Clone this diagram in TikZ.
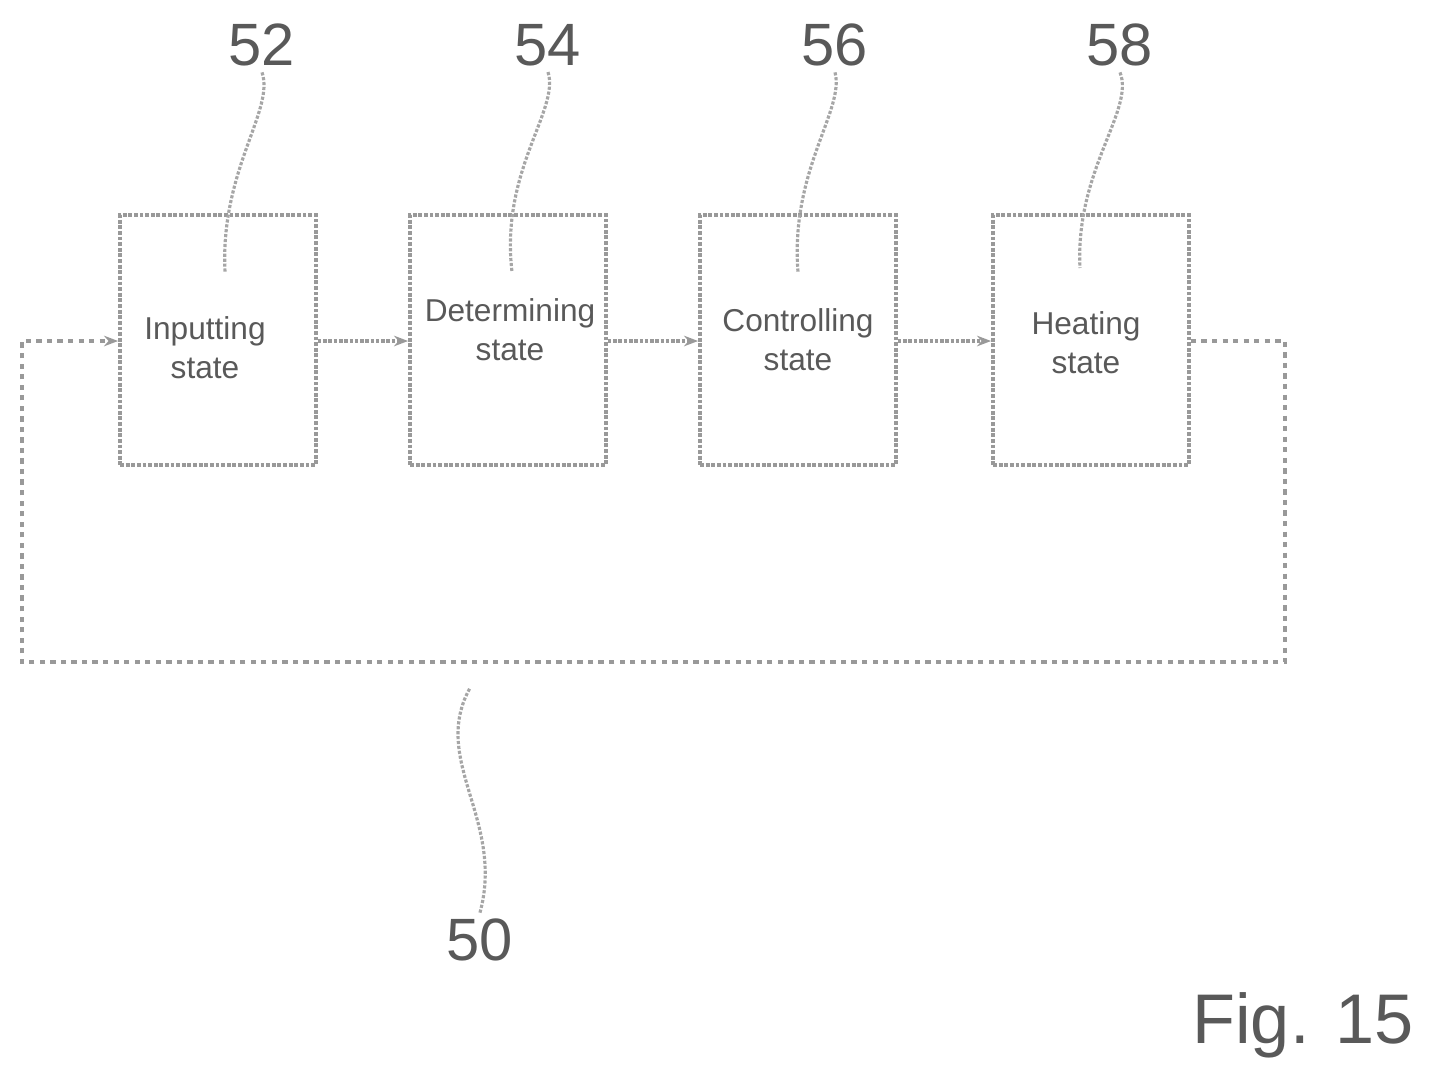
\documentclass[tikz,border=0pt]{standalone}
\usepackage{fontspec}
\setmainfont{Liberation Sans}
\usetikzlibrary{arrows.meta}
\begin{document}
\begin{tikzpicture}[x=0.02cm,y=-0.02cm,
  box/.style={draw=gray!80,densely dotted,line width=2.2pt,minimum width=3.92cm,minimum height=5cm,inner sep=0pt},
  lbl/.style={font=\fontsize{18}{22}\selectfont,text=gray!70!black,align=center},
  num/.style={font=\fontsize{34}{36}\selectfont,text=gray!70!black},
  con/.style={draw=gray!80,densely dotted,line width=2pt,-{Stealth[length=8pt]}},
  lead/.style={draw=gray!70,densely dotted,line width=1.8pt}]
\useasboundingbox (0,0) rectangle (1438,1086);
\node[box] (b52) at (218,340) {};
\node[box] (b54) at (508,340) {};
\node[box] (b56) at (798,340) {};
\node[box] (b58) at (1091,340) {};
\node[lbl] at (205,348) {Inputting\\state};
\node[lbl] at (510,330) {Determining\\state};
\node[lbl] at (798,340) {Controlling\\state};
\node[lbl] at (1086,343) {Heating\\state};
\draw[con] (b52.east |- 0,341) -- (b54.west |- 0,341);
\draw[con] (b54.east |- 0,341) -- (b56.west |- 0,341);
\draw[con] (b56.east |- 0,341) -- (b58.west |- 0,341);
\coordinate (c1) at (1285,341);
\coordinate (c2) at (1285,662);
\coordinate (c3) at (22,662);
\coordinate (c4) at (22,341);
\draw[con,dashed] (b58.east |- 0,341) -- (c1) -- (c2) -- (c3) -- (c4) -- (b52.west |- 0,341);
\node[num] (n52) at (262,45) {52};
\node[num] (n54) at (548,45) {54};
\node[num] (n56) at (835,45) {56};
\node[num] (n58) at (1120,45) {58};
\node[num] (n50) at (480,940) {50};
\node[font=\fontsize{40}{44}\selectfont,text=gray!70!black,anchor=east] (fig) at (1420,1025) {Fig. 15};
\draw[lead] (n52.south) .. controls (275,110) and (220,170) .. (225,272);
\draw[lead] (n54.south) .. controls (560,110) and (500,170) .. (512,272);
\draw[lead] (n56.south) .. controls (845,110) and (790,170) .. (798,272);
\draw[lead] (n58.south) .. controls (1135,110) and (1075,170) .. (1080,268);
\draw[lead] (n50.north) .. controls (505,820) and (430,760) .. (470,688);
\end{tikzpicture}
\end{document}
